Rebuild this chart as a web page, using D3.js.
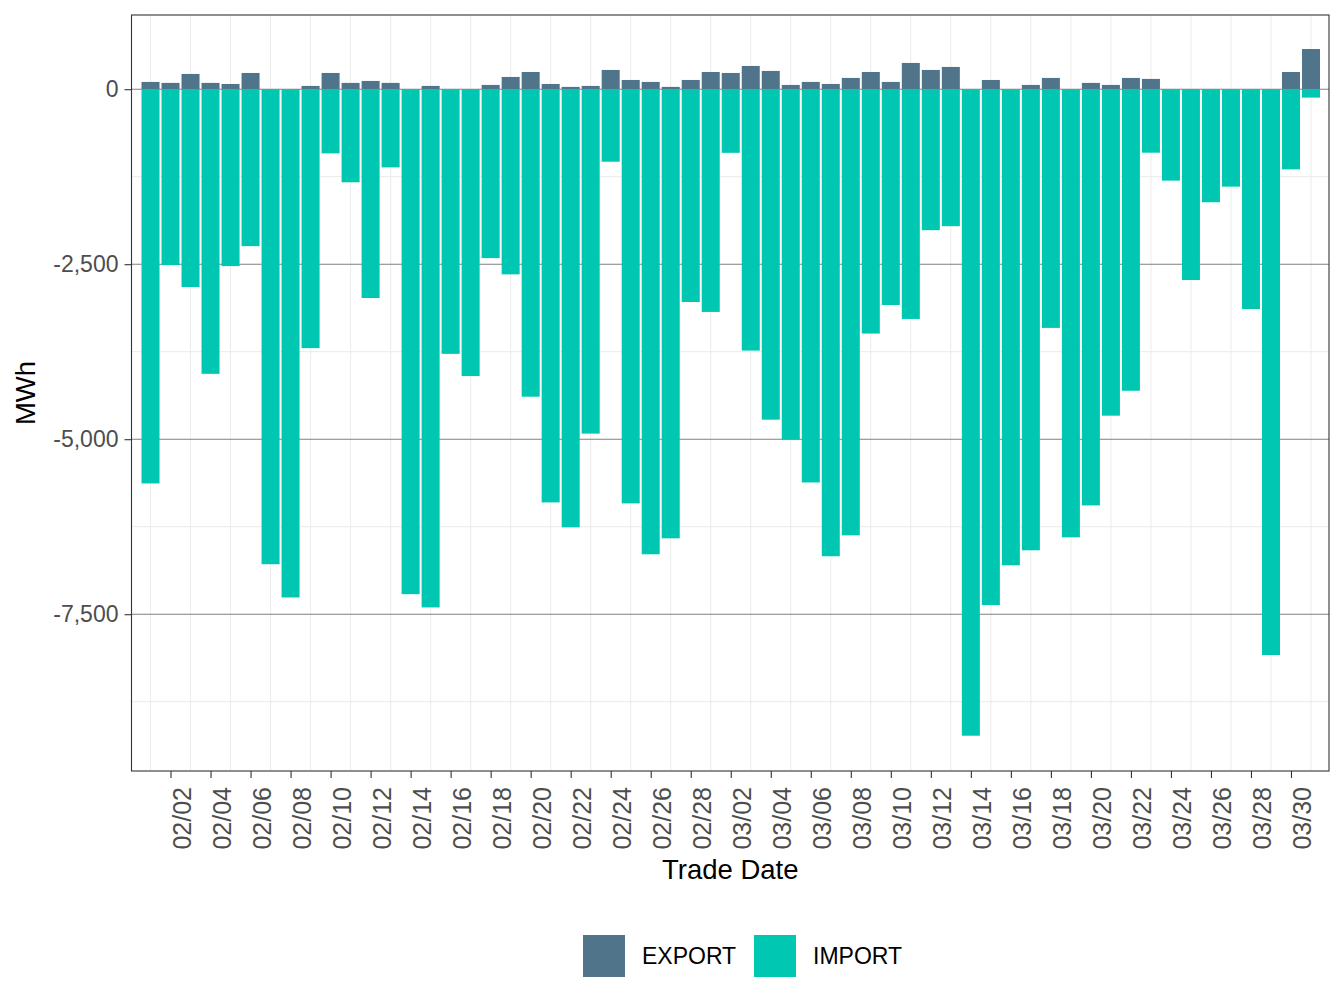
<!DOCTYPE html>
<html>
<head>
<meta charset="utf-8">
<script src="https://cdn.jsdelivr.net/npm/d3@7"></script>
<style>
  body { margin: 0; background: #fff; }
  text { font-family: "Liberation Sans", Arial, sans-serif; }
</style>
</head>
<body>
<div id="chart"></div>
<script>
// daily export / import volumes, 02/01 - 03/31
let days = [
  "02/01","02/02","02/03","02/04","02/05","02/06","02/07","02/08","02/09","02/10",
  "02/11","02/12","02/13","02/14","02/15","02/16","02/17","02/18","02/19","02/20",
  "02/21","02/22","02/23","02/24","02/25","02/26","02/27","02/28",
  "03/01","03/02","03/03","03/04","03/05","03/06","03/07","03/08","03/09","03/10",
  "03/11","03/12","03/13","03/14","03/15","03/16","03/17","03/18","03/19","03/20",
  "03/21","03/22","03/23","03/24","03/25","03/26","03/27","03/28","03/29","03/30","03/31"
];

let exportVals = [
  104, 90, 218, 90, 75, 232, 0, 0, 47, 232,
  90, 118, 90, 0, 47, 0, 0, 61, 175, 246,
  75, 33, 47, 275, 132, 104, 33, 132,
  246, 232, 332, 261, 61, 104, 75, 161, 246, 104,
  375, 275, 318, 0, 132, 0, 61, 161, 0, 90,
  61, 161, 147, 0, 0, 0, 0, 0, 0, 246, 574
];

let importVals = [
  -5632, -2513, -2826, -4066, -2527, -2242, -6786, -7261, -3699, -917,
  -1330, -2983, -1117, -7214, -7403, -3781, -4098, -2413, -2645, -4393,
  -5903, -6259, -4920, -1036, -5917, -6644, -6416, -3040,
  -3182, -909, -3734, -4721, -5006, -5618, -6672, -6373, -3491, -3083,
  -3282, -2014, -1957, -9236, -7370, -6801, -6587, -3410, -6402, -5946,
  -4664, -4308, -907, -1306, -2726, -1615, -1392, -3140, -8083, -1145, -120
];

let seriesNames  = ["EXPORT", "IMPORT"];
let seriesColors = ["#507489", "#00c7b2"];
let yMajor = [0, -2500, -5000, -7500];
let yMinor = [-1250, -3750, -6250, -8750];

let svgwidth  = 1344;
let svgheight = 1008;
let margin = { top: 15, right: 15, bottom: 237, left: 131.5 };
let plotw = svgwidth - margin.left - margin.right;
let ploth = svgheight - margin.top - margin.bottom;

let parseDay = (s) => {
  let p = s.split("/");
  return new Date(Date.UTC(2023, +p[0] - 1, +p[1]));
};
let dayMs = 864e5;

let data = days.map((d, i) => ({
  date: parseDay(d),
  exp: exportVals[i],
  imp: importVals[i]
}));

let first = data[0].date.getTime();
let last  = data[data.length - 1].date.getTime();

let x = d3.scaleUtc()
  .domain([new Date(first - 0.95 * dayMs), new Date(last + 0.9 * dayMs)])
  .range([0, plotw]);

let y = d3.scaleLinear()
  .domain([-9740, 1060])
  .range([ploth, 0]);

let svg = d3.select("#chart").append("svg")
  .attr("width", svgwidth)
  .attr("height", svgheight);

let g = svg.append("g")
  .attr("transform", "translate(" + margin.left + "," + margin.top + ")");

// minor grid
g.append("g").selectAll("line")
  .data(data.filter(d => d.date.getUTCDate() % 2 === 1))
  .join("line")
  .attr("x1", d => x(d.date)).attr("x2", d => x(d.date))
  .attr("y1", 0).attr("y2", ploth)
  .attr("stroke", "#ebebeb").attr("stroke-width", 1);

g.append("g").selectAll("line")
  .data(yMinor)
  .join("line")
  .attr("x1", 0).attr("x2", plotw)
  .attr("y1", d => y(d)).attr("y2", d => y(d))
  .attr("stroke", "#ebebeb").attr("stroke-width", 1);

// major y grid (dark)
g.append("g").selectAll("line")
  .data(yMajor)
  .join("line")
  .attr("x1", 0).attr("x2", plotw)
  .attr("y1", d => y(d)).attr("y2", d => y(d))
  .attr("stroke", "#7f7f7f").attr("stroke-width", 1.1);

let half = 0.45 * dayMs;

// export bars
g.append("g").selectAll("rect")
  .data(data.filter(d => d.exp > 0))
  .join("rect")
  .attr("x", d => x(new Date(d.date.getTime() - half)))
  .attr("width", d => x(new Date(d.date.getTime() + half)) - x(new Date(d.date.getTime() - half)))
  .attr("y", d => y(d.exp))
  .attr("height", d => y(0) - y(d.exp))
  .attr("fill", seriesColors[0]);

// import bars
g.append("g").selectAll("rect")
  .data(data)
  .join("rect")
  .attr("x", d => x(new Date(d.date.getTime() - half)))
  .attr("width", d => x(new Date(d.date.getTime() + half)) - x(new Date(d.date.getTime() - half)))
  .attr("y", y(0))
  .attr("height", d => y(d.imp) - y(0))
  .attr("fill", seriesColors[1]);

// panel border
g.append("rect")
  .attr("x", 0).attr("y", 0)
  .attr("width", plotw).attr("height", ploth)
  .attr("fill", "none")
  .attr("stroke", "#333333").attr("stroke-width", 1.1);

// x axis
let xTicks = data.filter(d => d.date.getUTCDate() % 2 === 0).map(d => d.date);
let xAxis = g.append("g")
  .attr("transform", "translate(0," + ploth + ")")
  .call(d3.axisBottom(x).tickValues(xTicks).tickSize(7).tickFormat(d3.utcFormat("%m/%d")));
xAxis.select(".domain").remove();
xAxis.selectAll(".tick line").attr("stroke", "#333333").attr("stroke-width", 1.1);
xAxis.selectAll(".tick text")
  .attr("fill", "#4d4d4d")
  .style("font-size", "25px")
  .attr("text-anchor", "end")
  .attr("transform", "rotate(-90)")
  .attr("x", -16)
  .attr("y", 0)
  .attr("dy", "0.78em");

// y axis
let fmt = d3.format(",");
let yAxis = g.append("g")
  .call(d3.axisLeft(y).tickValues(yMajor).tickSize(7).tickPadding(6)
    .tickFormat(d => fmt(d).replace("\u2212", "-")));
yAxis.select(".domain").remove();
yAxis.selectAll(".tick line").attr("stroke", "#333333").attr("stroke-width", 1.1);
yAxis.selectAll(".tick text")
  .attr("fill", "#4d4d4d")
  .style("font-size", "23px");

// axis titles
svg.append("text")
  .attr("x", margin.left + plotw / 2)
  .attr("y", 879)
  .attr("text-anchor", "middle")
  .style("font-size", "27.5px")
  .attr("fill", "#000")
  .text("Trade Date");

svg.append("text")
  .attr("transform", "translate(35," + (margin.top + ploth / 2) + ") rotate(-90)")
  .attr("text-anchor", "middle")
  .style("font-size", "27.5px")
  .attr("fill", "#000")
  .text("MWh");

// legend
let legendX = [583, 754];
let legend = svg.append("g");
seriesNames.forEach((name, i) => {
  legend.append("rect")
    .attr("x", legendX[i]).attr("y", 935)
    .attr("width", 42).attr("height", 42)
    .attr("fill", seriesColors[i]);
  legend.append("text")
    .attr("x", legendX[i] + 59).attr("y", 956)
    .attr("dy", "0.35em")
    .style("font-size", "23px")
    .attr("fill", "#000")
    .text(name);
});
</script>
</body>
</html>
